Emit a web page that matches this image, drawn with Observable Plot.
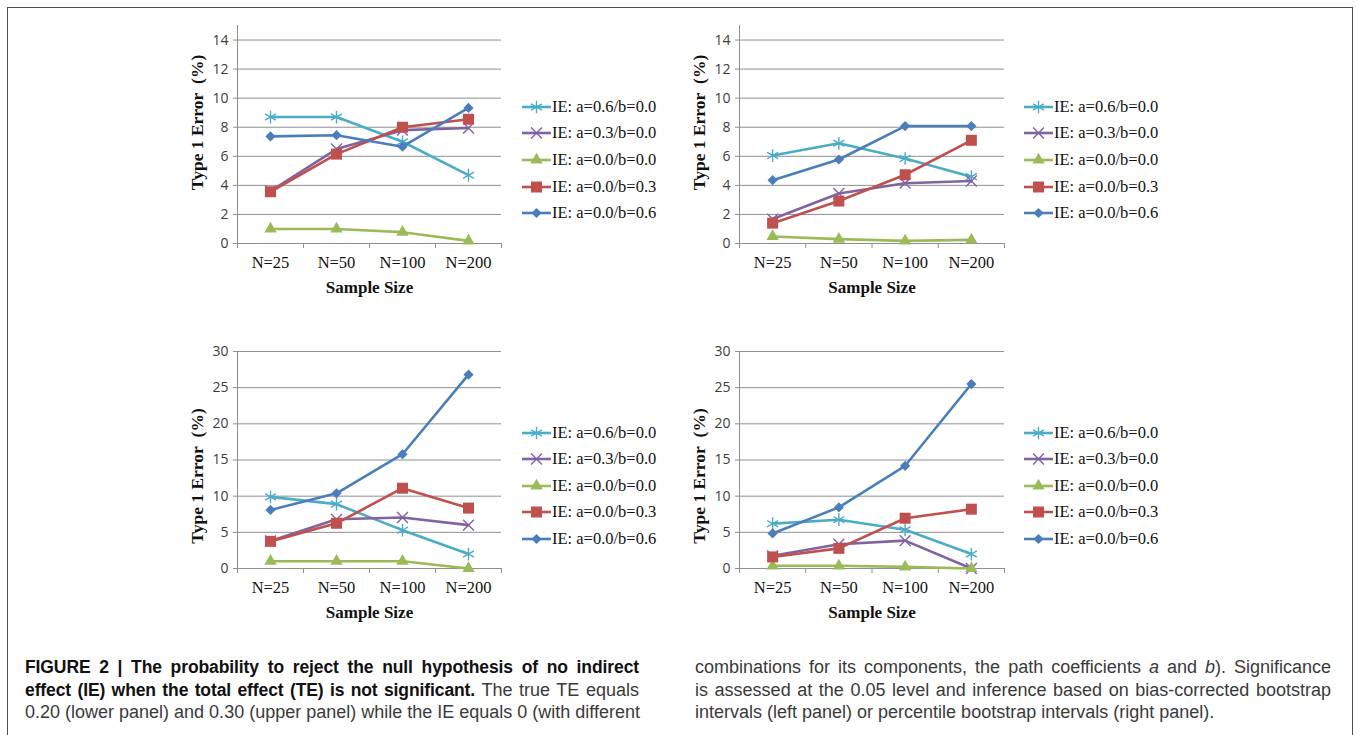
<!DOCTYPE html>
<html><head><meta charset="utf-8">
<script src="https://cdn.jsdelivr.net/npm/d3@7"></script>
<script src="https://cdn.jsdelivr.net/npm/@observablehq/plot@0.6"></script>
<style>
body{margin:0;background:#fff;}
#fig{position:relative;width:1356px;height:735px;overflow:hidden;background:#fff;}
.frame{position:absolute;left:7px;top:7px;width:1346px;height:760px;border:1.5px solid #4d4d4d;border-bottom:none;box-sizing:border-box;}
.panel{position:absolute;}
.panel svg{overflow:visible;}
.legend{position:absolute;font-family:"Liberation Serif",serif;font-size:16.5px;color:#111;}
.legend .row{position:absolute;left:0;height:20px;white-space:nowrap;display:flex;align-items:center;}
.legend svg{display:block;margin-right:1px;}
.cap{position:absolute;font-family:"Liberation Sans",Arial,sans-serif;font-size:18px;color:#3a3a3a;white-space:nowrap;line-height:20px;text-align:justify;text-align-last:justify;}
.cap.last{text-align:left;text-align-last:left;}
.cap b{color:#111;font-size:17.5px;letter-spacing:-0.1px;}
</style></head><body><div id="fig"><div class="frame"></div></div><script>
// ---- data ----
const sampleSizes = ["N=25", "N=50", "N=100", "N=200"];
const seriesNames = ["IE: a=0.6/b=0.0", "IE: a=0.3/b=0.0", "IE: a=0.0/b=0.0", "IE: a=0.0/b=0.3", "IE: a=0.0/b=0.6"];
const seriesColors = ["#4BACC6", "#8064A2", "#9BBB59", "#C0504D", "#4A7EBB"];
const seriesSymbols = ["asterisk", "times", "triangle", "square", "diamond2"];
const upperTicks = [0, 2, 4, 6, 8, 10, 12, 14];
const lowerTicks = [0, 5, 10, 15, 20, 25, 30];
// TE = 0.30, bias-corrected (upper left)
const upperLeft = [
  [8.7, 8.7, 7.0, 4.7],
  [3.6, 6.5, 7.8, 7.95],
  [1.0, 1.0, 0.78, 0.18],
  [3.56, 6.15, 8.0, 8.55],
  [7.37, 7.45, 6.66, 9.33]
];
// TE = 0.30, percentile (upper right)
const upperRight = [
  [6.05, 6.9, 5.85, 4.6],
  [1.68, 3.44, 4.15, 4.3],
  [0.48, 0.3, 0.18, 0.25],
  [1.4, 2.92, 4.73, 7.1],
  [4.36, 5.78, 8.08, 8.08]
];
// TE = 0.20, bias-corrected (lower left)
const lowerLeft = [
  [9.9, 8.9, 5.3, 2.0],
  [3.8, 6.8, 7.05, 6.0],
  [1.0, 1.0, 1.0, 0.0],
  [3.75, 6.25, 11.1, 8.35],
  [8.1, 10.4, 15.8, 26.8]
];
// TE = 0.20, percentile (lower right)
const lowerRight = [
  [6.2, 6.75, 5.35, 2.0],
  [1.75, 3.35, 3.85, 0.0],
  [0.37, 0.37, 0.23, 0.0],
  [1.6, 2.78, 6.95, 8.2],
  [4.85, 8.45, 14.2, 25.5]
];

// ---- drawing ----
const fig = document.getElementById("fig");
const symbolR = {asterisk: 6, times: 5, triangle: 4.6, square: 6.2, diamond2: 4.6};
const d3Sym = {asterisk: d3.symbolAsterisk, times: d3.symbolTimes, triangle: d3.symbolTriangle, square: d3.symbolSquare, diamond2: d3.symbolDiamond2};
const strokeSym = new Set(["asterisk", "times"]);
const gridColor = "#8f8f8f";

function makePanel(values, yMax, yTicks, opts) {
  const idx = d3.range(sampleSizes.length);
  const bounds = d3.range(sampleSizes.length + 1).map(i => i - 0.5);
  const marks = [
    Plot.gridY(yTicks, {stroke: gridColor, strokeOpacity: 1, strokeWidth: 1}),
    Plot.ruleX([-0.5], {stroke: gridColor, strokeWidth: 1}),
    Plot.ruleY([0], {stroke: gridColor, strokeWidth: 1}),
    Plot.axisY(yTicks, {label: null, tickSize: 4, tickPadding: 5, stroke: gridColor, fill: "#3c3c3c", fontSize: 14, fontFamily: "Open Sans", tickFormat: d => String(d)}),
    Plot.axisX(bounds, {label: null, tickSize: 5, tickFormat: () => "", stroke: gridColor}),
    Plot.axisX(idx, {label: null, tickSize: 0, tickPadding: 13, tickFormat: i => sampleSizes[i], fill: "#111", fontSize: 16.5, fontFamily: "Liberation Serif"}),
    Plot.text(["Sample Size"], {frameAnchor: "bottom", lineAnchor: "middle", dy: 44, fontWeight: "bold", fontSize: 17, fontFamily: "Liberation Serif", fill: "#111"}),
    Plot.text(["Type 1 Error\u00a0 (%)"], {frameAnchor: "left", textAnchor: "middle", lineAnchor: "middle", dx: -40, dy: opts.titleDy, rotate: -90, fontWeight: "bold", fontSize: 17.5, fontFamily: "Liberation Serif", fill: "#111"})
  ];
  values.forEach((vals, s) => {
    const d = vals.map((v, i) => ({i, v}));
    const sym = seriesSymbols[s];
    marks.push(Plot.line(d, {x: "i", y: "v", stroke: seriesColors[s], strokeWidth: 2.6}));
    marks.push(Plot.dot(d, strokeSym.has(sym)
      ? {x: "i", y: "v", symbol: sym, r: symbolR[sym], stroke: seriesColors[s], strokeWidth: 1.4}
      : {x: "i", y: "v", symbol: sym, r: symbolR[sym], fill: seriesColors[s], stroke: "none"}));
  });
  const plot = Plot.plot({
    width: opts.marginLeft + opts.plotWidth + 8,
    height: opts.marginTop + opts.plotHeight + 60,
    marginLeft: opts.marginLeft, marginRight: 8,
    marginTop: opts.marginTop, marginBottom: 60,
    x: {domain: [-0.5, 3.5], label: null},
    y: {domain: [0, yMax], label: null},
    style: {background: "transparent", overflow: "visible"},
    marks
  });
  const div = document.createElement("div");
  div.className = "panel";
  div.style.left = opts.left + "px";
  div.style.top = opts.top + "px";
  div.appendChild(plot);
  fig.appendChild(div);
}

function makeLegend(left, rowsY) {
  const lg = document.createElement("div");
  lg.className = "legend";
  lg.style.left = left + "px";
  lg.style.top = "0px";
  seriesNames.forEach((name, s) => {
    const row = document.createElement("div");
    row.className = "row";
    row.style.top = (rowsY[s] - 10) + "px";
    const svg = d3.create("svg").attr("width", 29).attr("height", 16);
    svg.append("line").attr("x1", 0).attr("x2", 29).attr("y1", 8).attr("y2", 8)
      .attr("stroke", seriesColors[s]).attr("stroke-width", 2.6);
    const sym = seriesSymbols[s];
    const r = symbolR[sym];
    const p = svg.append("path").attr("transform", "translate(14.5,8)")
      .attr("d", d3.symbol(d3Sym[sym], r * r * Math.PI)());
    if (strokeSym.has(sym)) p.attr("fill", "none").attr("stroke", seriesColors[s]).attr("stroke-width", 1.4);
    else p.attr("fill", seriesColors[s]);
    row.appendChild(svg.node());
    const t = document.createElement("span");
    t.textContent = name;
    row.appendChild(t);
    lg.appendChild(row);
  });
  fig.appendChild(lg);
}

makePanel(upperLeft, 15, upperTicks, {left: 180, top: 25, marginLeft: 57, marginTop: 0, plotWidth: 264, plotHeight: 218, titleDy: -12});
makePanel(upperRight, 15, upperTicks, {left: 680, top: 25, marginLeft: 59, marginTop: 0, plotWidth: 265, plotHeight: 218, titleDy: -12});
makePanel(lowerLeft, 30, lowerTicks, {left: 180, top: 340, marginLeft: 57, marginTop: 11, plotWidth: 264, plotHeight: 217, titleDy: 16});
makePanel(lowerRight, 30, lowerTicks, {left: 680, top: 340, marginLeft: 59, marginTop: 11, plotWidth: 265, plotHeight: 217, titleDy: 16});

makeLegend(522, [107, 133, 160, 187, 213]);
makeLegend(1024, [107, 133, 160, 187, 213]);
makeLegend(522, [433, 459, 486, 512, 539]);
makeLegend(1024, [433, 459, 486, 512, 539]);

// ---- caption ----
const captionLeft = [
  "<b>FIGURE 2 | The probability to reject the null hypothesis of no indirect</b>",
  "<b>effect (IE) when the total effect (TE) is not significant.</b> The true TE equals",
  "0.20 (lower panel) and 0.30 (upper panel) while the IE equals 0 (with different"
];
const captionRight = [
  "combinations for its components, the path coefficients <i>a</i> and <i>b</i>). Significance",
  "is assessed at the 0.05 level and inference based on bias-corrected bootstrap",
  "intervals (left panel) or percentile bootstrap intervals (right panel)."
];
const capY = [657, 680, 702];
[[captionLeft, 25, 614, false], [captionRight, 695, 636, true]].forEach(([lines, x, w, endsPara]) => {
  lines.forEach((html, k) => {
    const d = document.createElement("div");
    d.className = "cap" + (endsPara && k === lines.length - 1 ? " last" : "");
    d.style.left = x + "px";
    d.style.width = w + "px";
    d.style.top = capY[k] + "px";
    d.innerHTML = html;
    fig.appendChild(d);
  });
});
</script></body></html>
